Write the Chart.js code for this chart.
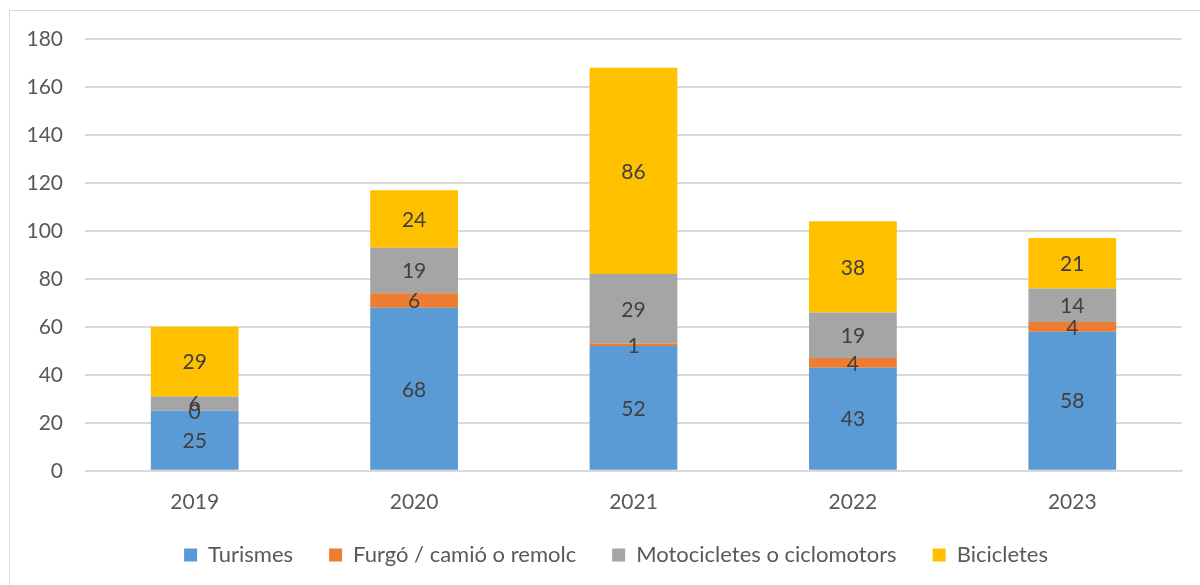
<!DOCTYPE html>
<html>
<head>
<meta charset="utf-8">
<script src="https://cdn.jsdelivr.net/npm/chart.js@4"></script>
<style>
  html, body { margin: 0; padding: 0; background: #fff; overflow: hidden; }
  #wrap {
    position: absolute; left: 9px; top: 10px;
    width: 1200px; height: 610px;
    border: 1px solid #d9d9d9; box-sizing: border-box;
  }
  #box { position: absolute; left: 0; top: 0; width: 1191px; height: 600px; }
</style>
</head>
<body>
<div id="wrap"><div id="box"><canvas id="chart"></canvas></div></div>
<script>
// Categories and series values
const years = ['2019', '2020', '2021', '2022', '2023'];
const turismes = [25, 68, 52, 43, 58];
const furgo = [0, 6, 1, 4, 4];
const motos = [6, 19, 29, 19, 14];
const bicis = [29, 24, 86, 38, 21];
const yTicks = [0, 20, 40, 60, 80, 100, 120, 140, 160, 180];

const FONT = 'Lato, "Liberation Sans", sans-serif';

// Draws the value in the middle of every bar segment (zeros too)
const barLabels = {
  id: 'barLabels',
  afterDatasetsDraw(chart) {
    const ctx = chart.ctx;
    ctx.save();
    ctx.font = '21px ' + FONT;
    ctx.fillStyle = '#404040';
    ctx.textAlign = 'center';
    ctx.textBaseline = 'middle';
    chart.data.datasets.forEach((ds, i) => {
      chart.getDatasetMeta(i).data.forEach((bar, j) => {
        const mid = (bar.y + bar.base) / 2;
        ctx.fillText(String(ds.data[j]), bar.x, mid + 1);
      });
    });
    ctx.restore();
  }
};

// Legend sits closer to the axis labels (and a bit to the right) than Chart.js puts it
const legendNudge = {
  id: 'legendNudge',
  afterLayout(chart) {
    const lg = chart.legend;
    lg.top -= 18; lg.bottom -= 18;
    lg.left += 20; lg.right += 20;
  }
};

new Chart(document.getElementById('chart'), {
  type: 'bar',
  data: {
    labels: years,
    datasets: [
      { label: 'Turismes', data: turismes, backgroundColor: '#5B9BD5' },
      { label: 'Furgó / camió o remolc', data: furgo, backgroundColor: '#ED7D31' },
      { label: 'Motocicletes o ciclomotors', data: motos, backgroundColor: '#A5A5A5' },
      { label: 'Bicicletes', data: bicis, backgroundColor: '#FFC000' }
    ]
  },
  options: {
    responsive: true,
    maintainAspectRatio: false,
    animation: false,
    datasets: { bar: { categoryPercentage: 1, barPercentage: 0.4 } },
    layout: { padding: { left: 0, right: 19, top: 0, bottom: 17 } },
    scales: {
      x: {
        stacked: true,
        grid: { display: false },
        border: { color: '#d9d9d9' },
        ticks: { color: '#595959', font: { family: FONT, size: 21 }, padding: 11 }
      },
      y: {
        stacked: true,
        min: 0, max: 180,
        afterBuildTicks(axis) { axis.ticks = yTicks.map(v => ({ value: v })); },
        afterFit(axis) { axis.width = 75; axis.paddingTop = 28; },
        grid: { color: '#d9d9d9', lineWidth: 2, drawTicks: false },
        border: { display: false },
        ticks: { color: '#595959', font: { family: FONT, size: 21 }, padding: 22 }
      }
    },
    plugins: {
      legend: {
        position: 'bottom',
        labels: {
          color: '#595959',
          font: { family: FONT, size: 22 },
          boxWidth: 13, boxHeight: 13,
          padding: 36
        }
      },
      tooltip: { enabled: false }
    }
  },
  plugins: [barLabels, legendNudge]
});
</script>
</body>
</html>
